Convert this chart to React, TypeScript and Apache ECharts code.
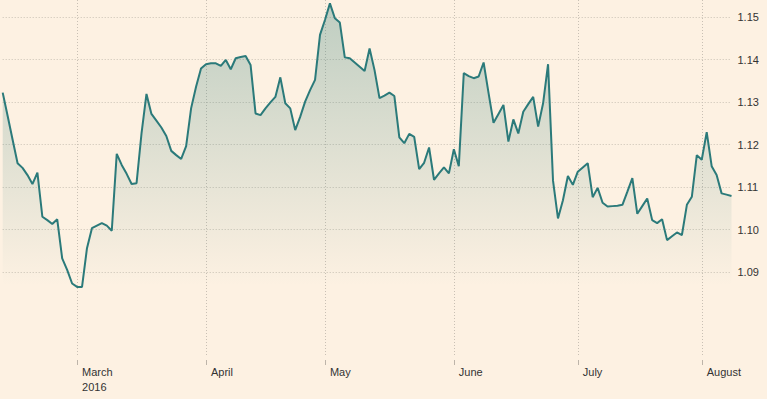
import React, { useEffect, useRef } from 'react';
import * as echarts from 'echarts';

// EUR/USD-like daily series
const values: number[] = [
  1.1322, 1.1267, 1.1211, 1.1156, 1.1145, 1.1128, 1.1107, 1.1134, 1.1030, 1.1022,
  1.1013, 1.1024, 1.0932, 1.0905, 1.0873, 1.0865, 1.0865, 1.0956, 1.1003, 1.1009,
  1.1015, 1.1009, 1.0997, 1.1178, 1.1152, 1.1131, 1.1107, 1.1109, 1.1226, 1.1319,
  1.1272, 1.1256, 1.1240, 1.1220, 1.1185, 1.1175, 1.1166, 1.1196, 1.1285, 1.1336,
  1.1379, 1.1389, 1.1391, 1.1391, 1.1385, 1.1399, 1.1377, 1.1403, 1.1406, 1.1408,
  1.1387, 1.1273, 1.1269, 1.1285, 1.1299, 1.1312, 1.1358, 1.1297, 1.1285, 1.1234,
  1.1265, 1.1301, 1.1328, 1.1352, 1.1458, 1.1493, 1.1532, 1.1497, 1.1487, 1.1405,
  1.1403, 1.1393, 1.1383, 1.1373, 1.1426, 1.1375, 1.1309, 1.1315, 1.1322, 1.1314,
  1.1217, 1.1203, 1.1225, 1.1218, 1.1142, 1.1157, 1.1193, 1.1117, 1.1132, 1.1146,
  1.1132, 1.1189, 1.1149, 1.1368, 1.1361, 1.1356, 1.1360, 1.1393, 1.1321, 1.1251,
  1.1272, 1.1293, 1.1207, 1.1259, 1.1226, 1.1277, 1.1295, 1.1312, 1.1242, 1.1297,
  1.1389, 1.1115, 1.1026, 1.1069, 1.1126, 1.1105, 1.1136, 1.1146, 1.1156, 1.1076,
  1.1098, 1.1063, 1.1054, 1.1055, 1.1056, 1.1058, 1.1089, 1.1121, 1.1037, 1.1055,
  1.1073, 1.1022, 1.1015, 1.1024, 1.0975, 1.0984, 1.0993, 1.0987, 1.1058, 1.1077,
  1.1175, 1.1164, 1.1229, 1.1149, 1.1128, 1.1085, 1.1082, 1.1079,
];

// index of the first trading day of each month, and its label
const monthStarts: number[] = [15, 41, 65, 91, 116, 141];
const monthLabels: string[] = ['March\n2016', 'April', 'May', 'June', 'July', 'August'];

// y tick labels that are shown
const yTickLabels: number[] = [1.09, 1.1, 1.11, 1.12, 1.13, 1.14, 1.15];

const categories: string[] = values.map((_, i) => {
  const m = monthStarts.indexOf(i);
  return m >= 0 ? monthLabels[m] : 'd' + i;
});

const FONT = '"Liberation Sans", Arial, Helvetica, sans-serif';
const GRID_COLOR = '#c9c0b4';

export default function App() {
  const ref = useRef<HTMLDivElement>(null);

  useEffect(() => {
    document.body.style.margin = '0';
    if (!ref.current) return;
    const chart = echarts.init(ref.current, null, { renderer: 'svg' });
    const isMonth = (idx: number) => monthStarts.includes(idx);
    const shown = (v: number) => yTickLabels.some((t) => Math.abs(t - v) < 1e-6);

    chart.setOption({
      animation: false,
      backgroundColor: '#fdf1e2',
      grid: { left: 2.7, right: 35.5, top: 0, bottom: 42, containLabel: false },
      xAxis: {
        type: 'category',
        data: categories,
        boundaryGap: false,
        offset: 3,
        axisLine: { show: false },
        axisTick: {
          show: true,
          interval: (i: number) => isMonth(i),
          length: 5,
          lineStyle: { color: '#bdb4a9', width: 1 },
        },
        axisLabel: {
          interval: (i: number) => isMonth(i),
          align: 'left',
          padding: [0, 0, 0, 5],
          margin: 4,
          color: '#333333',
          fontSize: 11,
          lineHeight: 15,
          fontFamily: FONT,
        },
        splitLine: {
          show: true,
          interval: (i: number) => isMonth(i),
          lineStyle: { color: GRID_COLOR, width: 1, type: [1, 2] },
        },
      },
      yAxis: {
        type: 'value',
        position: 'right',
        min: 1.07,
        max: 1.154,
        interval: 0.01,
        axisLine: { show: false },
        axisTick: { show: false },
        axisLabel: {
          margin: 6,
          color: '#333333',
          fontSize: 11,
          fontFamily: FONT,
          formatter: (v: number) => (shown(v) ? v.toFixed(2) : ''),
        },
        splitLine: {
          show: true,
          lineStyle: {
            color: [
              'transparent', 'transparent',
              GRID_COLOR, GRID_COLOR, GRID_COLOR, GRID_COLOR, GRID_COLOR, GRID_COLOR, GRID_COLOR,
              'transparent', 'transparent',
            ],
            width: 1,
            type: [1, 2],
          },
        },
      },
      series: [
        {
          type: 'line',
          data: values,
          symbol: 'none',
          lineStyle: { color: '#2b7a7a', width: 2 },
          areaStyle: {
            color: new echarts.graphic.LinearGradient(0, 0, 0, 1, [
              { offset: 0, color: 'rgba(40,120,115,0.42)' },
              { offset: 0.8, color: 'rgba(40,120,115,0.0)' },
              { offset: 1, color: 'rgba(40,120,115,0.0)' },
            ]),
          },
        },
      ],
    });

    return () => chart.dispose();
  }, []);

  return <div ref={ref} style={{ width: 767, height: 399 }} />;
}
